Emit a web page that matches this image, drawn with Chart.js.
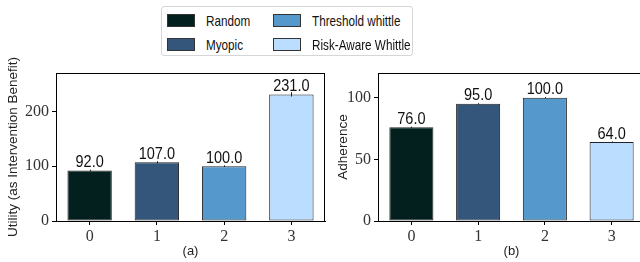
<!DOCTYPE html>
<html>
<head>
<meta charset="utf-8">
<script src="https://cdn.jsdelivr.net/npm/chart.js@4.4.0/dist/chart.umd.min.js"></script>
<style>
  html, body { margin: 0; padding: 0; background: #fff; overflow: hidden; }
  body { width: 640px; height: 262px; position: relative; }
  .wrap { position: absolute; top: 0; height: 262px; }
  #leftWrap { left: 0; width: 330px; }
  #rightWrap { left: 330px; width: 320px; }
  #legend {
    position: absolute; left: 161px; top: 6px; width: 250px; height: 48px;
    border: 1px solid #d6d6d6; border-radius: 3px; background: #fff;
    font-family: "Liberation Sans", sans-serif; font-size: 15px; color: #111;
  }
  .item { position: absolute; display: flex; align-items: center; white-space: nowrap; height: 14px; }
  .sw { width: 26px; height: 11px; border: 1px solid #333; margin-right: 11px; flex: none; }
  .item span { display: inline-block; transform: scaleX(0.78); transform-origin: left center; }
</style>
</head>
<body>
<div class="wrap" id="leftWrap"><canvas id="leftCanvas"></canvas></div>
<div class="wrap" id="rightWrap"><canvas id="rightCanvas"></canvas></div>
<div id="legend"></div>

<script>
const methods = ["Random", "Myopic", "Threshold whittle", "Risk-Aware Whittle"];
const colors = ["#03201f", "#34567a", "#5599cc", "#bbddff"];
const categories = ["0", "1", "2", "3"];
const utility = [92, 107, 100, 231];
const utilityErr = [1.5, 2, 1.5, 4];
const adherence = [76, 95, 100, 64];
const adherenceErr = [0.5, 0.5, 0.5, 0.5];
const utilityTicks = [0, 100, 200];
const adherenceTicks = [0, 50, 100];

// legend, two columns
const legendPos = [[5, 6], [5, 30], [111, 6], [111, 30]];
document.getElementById("legend").innerHTML = methods.map((m, i) => `
  <div class="item" style="left:${legendPos[i][0]}px;top:${legendPos[i][1]}px;">
    <div class="sw" style="background:${colors[i]}"></div><span>${m}</span>
  </div>`).join("");

const frame = {
  id: "frame",
  afterDraw(chart) {
    const { ctx, chartArea: a } = chart;
    ctx.save();
    ctx.strokeStyle = "#000";
    ctx.lineWidth = 1;
    ctx.strokeRect(a.left + 0.5, a.top + 0.5, a.right - a.left - 1, a.bottom - a.top);
    ctx.restore();
  }
};

// value text + tiny error bars on top of each bar
const barLabels = {
  id: "barLabels",
  afterDatasetsDraw(chart, args, opts) {
    const { ctx } = chart;
    const y = chart.scales.y;
    const meta = chart.getDatasetMeta(0);
    const data = chart.data.datasets[0].data;
    meta.data.forEach((bar, i) => {
      const e = opts.err[i];
      ctx.save();
      ctx.strokeStyle = "#222";
      ctx.lineWidth = 1;
      ctx.beginPath();
      ctx.moveTo(Math.round(bar.x) + 0.5, y.getPixelForValue(data[i] - e));
      ctx.lineTo(Math.round(bar.x) + 0.5, y.getPixelForValue(data[i] + e));
      ctx.stroke();
      ctx.fillStyle = "#111";
      ctx.font = "16.5px 'Liberation Sans', sans-serif";
      ctx.textAlign = "center";
      ctx.textBaseline = "alphabetic";
      ctx.translate(bar.x, bar.y - 3.5);
      ctx.scale(0.88, 1);
      ctx.fillText(data[i].toFixed(1), 0, 0);
      ctx.restore();
    });
  }
};

function makeChart(id, values, err, ticks, yMax, yTitle, xTitle, yWidth) {
  return new Chart(document.getElementById(id), {
    type: "bar",
    data: {
      labels: categories,
      datasets: [{
        data: values,
        backgroundColor: colors,
        borderColor: "#222",
        borderWidth: 1,
        borderSkipped: false,
        categoryPercentage: 1,
        barPercentage: 0.66,
      }]
    },
    options: {
      responsive: true,
      maintainAspectRatio: false,
      animation: false,
      layout: { padding: { top: 73, right: 5, left: 0, bottom: 0 } },
      plugins: {
        legend: { display: false },
        tooltip: { enabled: false },
        barLabels: { err },
      },
      scales: {
        x: {
          grid: { display: true, offset: false, drawOnChartArea: false, color: "#000", tickLength: 4 },
          border: { display: true, color: "#000" },
          ticks: { color: "#333", padding: 2, font: { family: "'Liberation Serif', serif", size: 16 } },
          title: { display: true, text: xTitle, color: "#222", padding: { top: 0, bottom: 3 },
                   font: { family: "'Liberation Sans', sans-serif", size: 13 } },
          afterFit: s => { s.height = 41; },
        },
        y: {
          min: 0, max: yMax,
          afterBuildTicks: s => { s.ticks = ticks.map(v => ({ value: v })); },
          grid: { display: true, drawOnChartArea: false, color: "#000", tickLength: 4 },
          border: { display: true, color: "#000" },
          ticks: { color: "#333", padding: 3, font: { family: "'Liberation Serif', serif", size: 16 } },
          title: { display: true, text: yTitle, color: "#222", padding: { top: 5, bottom: 0 },
                   font: { family: "'Liberation Sans', sans-serif", size: 13.5 } },
          afterFit: s => { s.width = yWidth; },
        }
      }
    },
    plugins: [frame, barLabels]
  });
}

makeChart("leftCanvas", utility, utilityErr, utilityTicks, 270, "Utility (as Intervention Benefit)", "(a)", 56);
makeChart("rightCanvas", adherence, adherenceErr, adherenceTicks, 120, "Adherence", "(b)", 48);
</script>
</body>
</html>
